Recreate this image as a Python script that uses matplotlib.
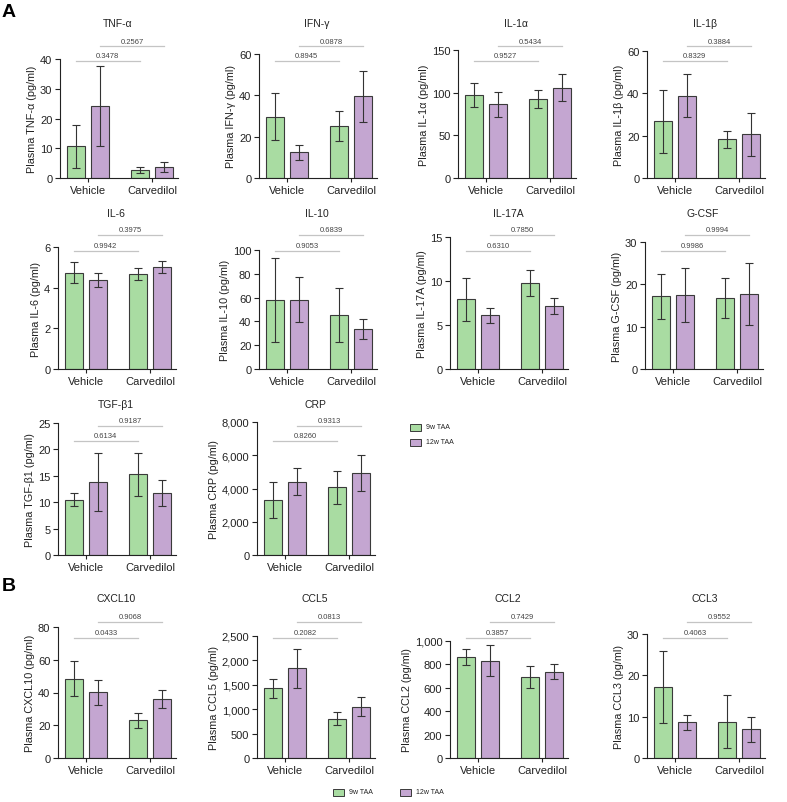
import numpy as np
import matplotlib
matplotlib.use("Agg")
import matplotlib.pyplot as plt
from matplotlib.patches import Rectangle
from matplotlib.transforms import blended_transform_factory
from matplotlib.ticker import FuncFormatter

plt.rcParams['font.family'] = ['Liberation Sans', 'DejaVu Sans']

# data: [Vehicle, Carvedilol]
panels = ["TNF-α", "IFN-γ", "IL-1α", "IL-1β",
          "IL-6", "IL-10", "IL-17A", "G-CSF",
          "TGF-β1", "CRP",
          "CXCL10", "CCL5", "CCL2", "CCL3"]
ylabels = ["Plasma " + p + " (pg/ml)" for p in panels]

mean_9w = [[10.6, 2.8], [29.7, 25.0], [97.7, 92.2], [26.7, 18.2],
           [4.74, 4.67], [58.1, 45.5], [7.92, 9.77], [17.2, 16.8],
           [10.47, 15.3], [3325, 4070],
           [48.5, 23.1], [1425, 808], [866, 693], [17.1, 8.8]]
sd_9w = [[7.3, 1.0], [11.5, 7.3], [14.2, 10.5], [14.7, 4.1],
         [0.53, 0.31], [35.4, 22.4], [2.45, 1.45], [5.35, 4.65],
         [1.24, 4.05], [1070, 1000],
         [10.7, 4.55], [190, 140], [68, 92], [8.7, 6.5]]
mean_12w = [[24.1, 3.6], [12.4, 39.5], [86.3, 105.9], [38.9, 20.6],
            [4.36, 5.02], [58.1, 33.4], [6.08, 7.17], [17.4, 17.7],
            [13.83, 11.8], [4413, 4937],
            [40.2, 35.9], [1836, 1055], [830, 736], [8.6, 6.9]]
sd_12w = [[13.5, 1.7], [3.8, 12.3], [14.6, 15.8], [10.0, 10.2],
          [0.35, 0.28], [19.0, 8.4], [0.9, 0.9], [6.35, 7.25],
          [5.5, 2.45], [800, 1080],
          [7.7, 5.55], [400, 190], [133, 64], [1.85, 3.1]]
p_green = ["0.3478", "0.8945", "0.9527", "0.8329",
           "0.9942", "0.9053", "0.6310", "0.9986",
           "0.6134", "0.8260",
           "0.0433", "0.2082", "0.3857", "0.4063"]
p_purple = ["0.2567", "0.0878", "0.5434", "0.3884",
            "0.3975", "0.6839", "0.7850", "0.9994",
            "0.9187", "0.9313",
            "0.9068", "0.0813", "0.7429", "0.9552"]
ymax = [40, 60, 150, 60, 6, 100, 15, 30, 25, 8000, 80, 2500, 1000, 30]
ystep = [10, 20, 50, 20, 2, 20, 5, 10, 5, 2000, 20, 500, 200, 10]
groups = ["Vehicle", "Carvedilol"]
series = ["9w TAA", "12w TAA"]

# layout in pixels: (left spine, top, row)
layout = [(60, 60, 0), (259, 55, 0), (458, 51, 0), (647, 52, 0),
          (58, 248, 1), (259, 251, 1), (450, 238, 1), (645, 243, 1),
          (58, 424, 2), (257, 423, 2),
          (58, 628, 3), (257, 637, 3), (450, 642, 3), (647, 635, 3)]
row_bottom = [179, 370, 556, 759]
row_title = [24, 214, 405, 599]
row_sig = [(117, 132), (118, 134), (114, 129), (120, 136)]

W, H = 787, 803
green = '#a9dca2'
purple = '#c4a6d1'
edge = '#3a3a3a'
fig = plt.figure(figsize=(W / 100, H / 100), dpi=100)

x = np.arange(2)
off, bw = 0.19, 0.28
for i, name in enumerate(panels):
    left, top, row = layout[i]
    bottom = row_bottom[row]
    ax = fig.add_axes([left / W, 1 - bottom / H, 118 / W, (bottom - top) / H])
    ekw = dict(ecolor='#333333', elinewidth=0.8, capsize=3, capthick=0.8)
    ax.bar(x - off, mean_9w[i], bw, yerr=sd_9w[i], color=green,
           edgecolor=edge, linewidth=0.8, error_kw=ekw)
    ax.bar(x + off, mean_12w[i], bw, yerr=sd_12w[i], color=purple,
           edgecolor=edge, linewidth=0.8, error_kw=ekw)
    ax.set_xlim(-0.4375, 1.406)
    ax.set_ylim(0, ymax[i])
    ax.set_yticks(np.arange(0, ymax[i] + ystep[i] / 2, ystep[i]))
    ax.yaxis.set_major_formatter(FuncFormatter(lambda v, _: f"{v:,.0f}"))
    ax.set_xticks(x, groups)
    for s in ['top', 'right']:
        ax.spines[s].set_visible(False)
    for s in ['left', 'bottom']:
        ax.spines[s].set_linewidth(0.8)
        ax.spines[s].set_color('#222222')
    ax.tick_params(axis='y', length=3.5, width=0.8, pad=2, labelsize=8,
                   color='#222222', labelcolor='#222222')
    ax.tick_params(axis='x', length=3, width=0.8, pad=2, labelsize=8,
                   color='#222222', labelcolor='#222222')
    ax.set_ylabel(ylabels[i], fontsize=7.8, labelpad=2, color='#222222')

    trans = blended_transform_factory(ax.transData, fig.transFigure)
    lo, hi = row_sig[row]
    for (x0, x1), dy, txt in [((-off, 1 - off), lo, p_green[i]),
                              ((off, 1 + off), hi, p_purple[i])]:
        yy = 1 - (bottom - dy) / H
        ax.plot([x0, x1], [yy, yy], color='#c4c4c4', lw=0.9,
                transform=trans, clip_on=False)
        ax.text((x0 + x1) / 2, yy + 1.5 / H, txt, transform=trans,
                ha='center', va='bottom', fontsize=5.5, color='#444444')

    fig.text((left + 58) / W, 1 - row_title[row] / H, name, ha='center',
             va='center', fontsize=7.5, color='#222222')


def swatch(xp, yp, color, label):
    fig.patches.append(Rectangle((xp / W, 1 - (yp + 3.5) / H), 11 / W, 7 / H,
                                 transform=fig.transFigure, facecolor=color,
                                 edgecolor=edge, linewidth=0.7))
    fig.text((xp + 16) / W, 1 - yp / H, label, ha='left', va='center',
             fontsize=5, color='#222222')


swatch(410, 428, green, series[0])
swatch(410, 443, purple, series[1])
swatch(333, 793, green, series[0])
swatch(400, 793, purple, series[1])

fig.text(2 / W, 1 - 4 / H, "A", fontsize=14, fontweight='bold', va='top')
fig.text(2 / W, 1 - 578 / H, "B", fontsize=14, fontweight='bold', va='top')

fig.savefig("out.png", dpi=100)
